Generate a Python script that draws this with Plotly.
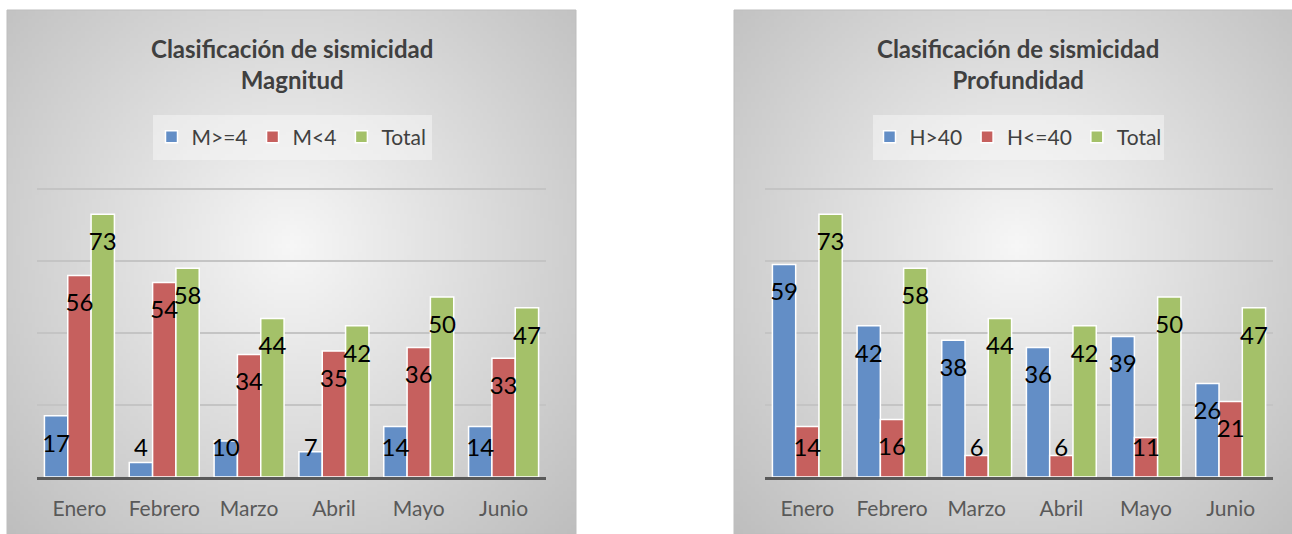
import base64
import struct
import zlib

import numpy as np
import plotly.graph_objects as go

# ---------------- data ----------------
months = ["Enero", "Febrero", "Marzo", "Abril", "Mayo", "Junio"]

mag_ge4 = [17, 4, 10, 7, 14, 14]
mag_lt4 = [56, 54, 34, 35, 36, 33]
mag_total = [73, 58, 44, 42, 50, 47]

prof_gt40 = [59, 42, 38, 36, 39, 26]
prof_le40 = [14, 16, 6, 6, 11, 21]
prof_total = [73, 58, 44, 42, 50, 47]

left_names = ["M>=4", "M<4", "Total"]
right_names = ["H>40", "H<=40", "Total"]
left_title = "Clasificación de sismicidad<br>Magnitud"
right_title = "Clasificación de sismicidad<br>Profundidad"

# ---------------- style ----------------
W, H = 1292, 534
COLORS = ["rgb(99,142,198)", "rgb(198,96,94)", "rgb(164,193,105)"]
FONT = "Lato, 'Open Sans', sans-serif"
GROUP = 0.825           # fraction of category used by a bar group
BW = GROUP / 3           # width of one bar
YMAX = 80.3


def px_x(v):
    return v / W


def px_y(v):
    return 1 - v / H


def gradient_png(w, h, cx=0.5, cy=0.45, inner=247, outer=190):
    xs = (np.arange(w) + 0.5) / w
    ys = (np.arange(h) + 0.5) / h
    X, Y = np.meshgrid(xs, ys)
    r = np.sqrt(((X - cx) / 0.5) ** 2 + ((Y - cy) / 0.55) ** 2) / np.sqrt(2)
    r = np.clip(r, 0, 1)
    pix = (inner - (inner - outer) * r).astype(np.uint8)
    raw = b"".join(b"\x00" + pix[i].tobytes() for i in range(h))

    def chunk(t, d):
        return struct.pack(">I", len(d)) + t + d + struct.pack(">I", zlib.crc32(t + d) & 0xFFFFFFFF)

    png = (b"\x89PNG\r\n\x1a\n"
           + chunk(b"IHDR", struct.pack(">IIBBBBB", w, h, 8, 0, 0, 0, 0))
           + chunk(b"IDAT", zlib.compress(raw, 9))
           + chunk(b"IEND", b""))
    return "data:image/png;base64," + base64.b64encode(png).decode()


bg_src = gradient_png(150, 140)

fig = go.Figure()
idx = np.arange(len(months))


def add_panel(series, names, xa, ya, legend):
    for k, (vals, name) in enumerate(zip(series, names)):
        off = -GROUP / 2 + k * BW
        fig.add_trace(go.Bar(
            x=idx, y=vals, offset=off, width=BW, name=name,
            marker=dict(color=COLORS[k], line=dict(color="white", width=1.5)),
            xaxis=xa, yaxis=ya, legend=legend, hoverinfo="skip",
        ))
        vals_a = np.array(vals, dtype=float)
        ylab = np.maximum(vals_a - 8.3, 7.5)
        fig.add_trace(go.Scatter(
            x=idx + off + BW / 2, y=ylab, mode="text", text=[str(v) for v in vals],
            textfont=dict(family=FONT, size=24, color="black"),
            textposition="middle center", showlegend=False, cliponaxis=False,
            xaxis=xa, yaxis=ya, hoverinfo="skip",
        ))


add_panel([mag_ge4, mag_lt4, mag_total], left_names, "x", "y", "legend")
add_panel([prof_gt40, prof_le40, prof_total], right_names, "x2", "y2", "legend2")

xcommon = dict(range=[-0.5, 5.5], tickvals=list(idx), ticktext=months, showgrid=False,
               zeroline=False, showline=True, linecolor="#595959", linewidth=3, ticks="",
               tickfont=dict(family=FONT, size=21, color="#595959"), ticklabelstandoff=11,
               fixedrange=True)
ycommon = dict(range=[0, YMAX], dtick=20, showgrid=True, gridcolor="#c4c4c4", gridwidth=2,
               zeroline=False, showticklabels=False, fixedrange=True)

# plot area: y=0 at 477 px, y=80 at 189 px
ppu = (477 - 189) / 80.0
y0, y1 = px_y(477), px_y(477 - YMAX * ppu)

panels = [
    dict(x0=7, x1=576, cx=291.5, dom=[px_x(37), px_x(546)], title=left_title,
         leg_box=(153, 432)),
    dict(x0=734, x1=1300, cx=1018, dom=[px_x(765), px_x(1273)], title=right_title,
         leg_box=(873, 1164)),
]

images, shapes, annotations = [], [], []
for p in panels:
    images.append(dict(source=bg_src, xref="paper", yref="paper", x=px_x(p["x0"]), y=px_y(10),
                       sizex=px_x(p["x1"] - p["x0"]), sizey=(524) / H, sizing="stretch",
                       xanchor="left", yanchor="top", layer="below"))
    shapes.append(dict(type="rect", xref="paper", yref="paper", x0=px_x(p["x0"]), x1=px_x(p["x1"]),
                       y0=px_y(534), y1=px_y(10), line=dict(color="#bdbdbd", width=1),
                       fillcolor="rgba(0,0,0,0)", layer="below"))
    lx0, lx1 = p["leg_box"]
    shapes.append(dict(type="rect", xref="paper", yref="paper", x0=px_x(lx0), x1=px_x(lx1),
                       y0=px_y(160), y1=px_y(115), line=dict(width=0),
                       fillcolor="rgba(250,250,250,0.45)", layer="below"))
    annotations.append(dict(text="<b>" + p["title"].replace("<br>", "</b><br><b>") + "</b>",
                            xref="paper", yref="paper", x=px_x(p["cx"]), y=px_y(64),
                            xanchor="center", yanchor="middle", showarrow=False,
                            font=dict(family=FONT, size=24, color="#404040")))

legend_common = dict(orientation="h", xanchor="center", yanchor="middle",
                     bgcolor="rgba(0,0,0,0)", font=dict(family=FONT, size=21, color="#404040"),
                     itemclick=False, itemdoubleclick=False)

fig.update_layout(
    width=W, height=H, margin=dict(l=0, r=0, t=0, b=0),
    paper_bgcolor="white", plot_bgcolor="rgba(0,0,0,0)",
    barmode="overlay", showlegend=True,
    xaxis=dict(domain=panels[0]["dom"], anchor="y", **xcommon),
    yaxis=dict(domain=[y0, y1], anchor="x", **ycommon),
    xaxis2=dict(domain=panels[1]["dom"], anchor="y2", **xcommon),
    yaxis2=dict(domain=[y0, y1], anchor="x2", **ycommon),
    legend=dict(x=px_x(291.5), y=px_y(137), **legend_common),
    legend2=dict(x=px_x(1018), y=px_y(137), **legend_common),
    images=images, shapes=shapes, annotations=annotations,
)

fig.write_html("out.html", config={"displayModeBar": False},
               post_script="document.body.style.margin='0';")
